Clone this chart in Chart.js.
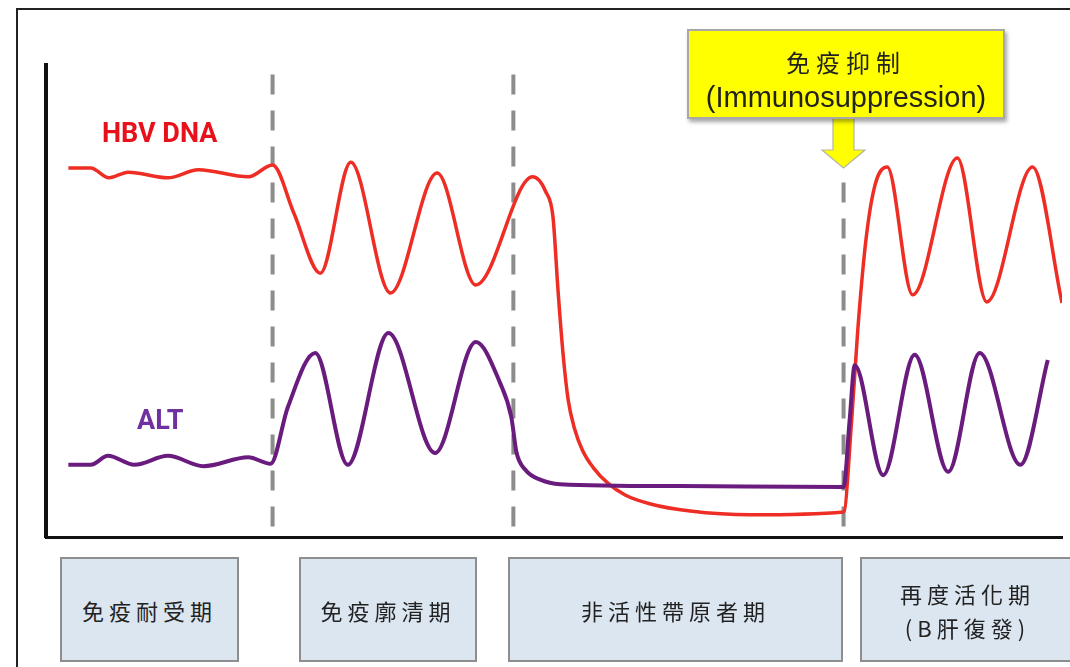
<!DOCTYPE html>
<html>
<head>
<meta charset="utf-8">
<script src="https://cdn.jsdelivr.net/npm/chart.js@4"></script>
<style>
  body { margin: 0; background: #fff; }
  #wrap { position: relative; width: 1070px; height: 667px; overflow: hidden; background: #fff; }
  #frame { position: absolute; left: 16px; top: 8px; width: 2000px; height: 2000px;
           border-left: 2px solid #222; border-top: 2px solid #222; }
  canvas { position: absolute; left: 0; top: 0; }
  .lbl { position: absolute; font-family: Roboto, "Liberation Sans", sans-serif; font-weight: 700; font-size: 27px; line-height: 1; }
  .phase { position: absolute; top: 557px; height: 105px; box-sizing: border-box;
           background: #dce6f1; border: 2px solid #8e8e8e;
           display: flex; align-items: center; justify-content: center; text-align: center;
           font-family: "Noto Sans CJK TC", sans-serif; font-size: 22px; letter-spacing: 5px;
           color: #222; line-height: 34px; white-space: pre; }
  #callout { position: absolute; left: 687px; top: 29px; width: 318px; height: 90px; box-sizing: border-box;
             background: #ffff00; border: 2px solid #a8a8a8; box-shadow: 2px 3px 4px rgba(0,0,0,0.35);
             text-align: center; color: #222; }
  #callout .zh { font-family: "Noto Sans CJK TC", sans-serif; font-size: 24px; letter-spacing: 6px; margin-top: 16px; line-height: 30px; }
  #callout .en { font-family: "Liberation Sans", Arial, sans-serif; font-size: 29px; line-height: 34px; margin-top: 3px; }
  #arrow { position: absolute; left: 0; top: 0; }
</style>
</head>
<body>
<div id="wrap">
  <div id="frame"></div>
  <canvas id="myChart" width="1070" height="667"></canvas>
  <div class="lbl" id="dnaLbl" style="left:102px; top:120px; color:#e8101a;">HBV DNA</div>
  <div class="lbl" id="altLbl" style="left:137px; top:407px; color:#7030a0;">ALT</div>
  <div id="phases"></div>
  <svg id="arrow" width="1070" height="200">
    <polygon points="833,118 854,118 854,150 865,150 843.5,168 822,150 833,150"
             fill="#ffff00" stroke="#b5b5a0" stroke-width="1.2"/>
  </svg>
  <div id="callout">
    <div class="zh">免疫抑制</div>
    <div class="en">(Immunosuppression)</div>
  </div>
</div>
<script>
'use strict'

// time runs 0..100 along the x axis, level 0..100 up the y axis
const dnaTime  = [2.2, 4.4, 6.2, 8.1, 12.0, 15.0, 19.9, 22.3, 24.4, 27.0, 30.0, 33.9, 38.5, 42.3, 47.9, 49.2, 49.9, 50.4, 50.9, 51.4, 52.0, 52.8, 53.9, 55.3, 57.0, 59.5, 63.4, 69.3, 78.5, 79.3, 79.9, 80.7, 81.6, 82.8, 85.3, 89.7, 92.6, 97.1, 100];
const dnaLevel = [78.2, 78.2, 76.1, 77.3, 76.1, 77.8, 76.3, 78.8, 68.6, 55.9, 79.4, 51.7, 77.1, 53.4, 76.3, 73.1, 67.8, 52.1, 38.6, 29.0, 23.1, 18.4, 14.6, 11.4, 8.9, 7.0, 5.5, 4.7, 5.3, 24.8, 43.9, 62.9, 74.6, 78.4, 51.3, 80.3, 49.8, 78.4, 49.6];

const altTime  = [2.2, 4.4, 6.1, 8.7, 12.0, 15.5, 19.9, 22.1, 23.8, 26.5, 29.7, 33.7, 38.3, 42.3, 44.7, 45.8, 46.3, 47.2, 48.7, 50.6, 62.4, 78.5, 79.1, 79.6, 82.4, 85.5, 88.8, 91.9, 95.9, 98.6];
const altLevel = [15.3, 15.3, 17.2, 15.3, 17.2, 15.0, 16.9, 15.5, 27.5, 39.0, 15.3, 43.2, 17.8, 41.3, 32.6, 25.4, 18.0, 14.2, 12.1, 11.2, 10.8, 10.6, 24.8, 36.4, 13.1, 38.6, 13.8, 39.0, 15.3, 37.5];

// phase boundaries (dashed lines) and phase names
const phaseBounds = [22.3, 46.0, 78.5];
const phaseNames = ['免疫耐受期', '免疫廓清期', '非活性帶原者期', '再度活化期\n(B肝復發)'];

const toPoints = (xs, ys) => xs.map((x, i) => ({x: x, y: ys[i]}));

const datasets = [
    {
        label: 'ALT',
        data: toPoints(altTime, altLevel),
        borderColor: '#6a1b7e',
        borderWidth: 4,
        pointRadius: 0,
        cubicInterpolationMode: 'monotone'
    },
    {
        label: 'HBV DNA',
        data: toPoints(dnaTime, dnaLevel),
        borderColor: '#ee2d24',
        borderWidth: 3.5,
        pointRadius: 0,
        cubicInterpolationMode: 'monotone'
    }
];

phaseBounds.forEach(b => {
    datasets.push({
        label: 'bound',
        data: [{x: b, y: 98}, {x: b, y: 0}],
        borderColor: '#8c8c8c',
        borderWidth: 4,
        borderDash: [20, 16],
        pointRadius: 0,
        tension: 0
    });
});

const ctx = document.getElementById('myChart');
new Chart(ctx, {
    type: 'line',
    data: { datasets: datasets },
    options: {
        responsive: false,
        animation: false,
        layout: { padding: { left: 46, top: 65, right: 8, bottom: 130 } },
        plugins: { legend: { display: false }, tooltip: { enabled: false } },
        scales: {
            x: {
                type: 'linear', min: 0, max: 100,
                ticks: { display: false },
                grid: { display: false, drawTicks: false },
                border: { display: true, color: '#111', width: 3 }
            },
            y: {
                min: 0, max: 100,
                ticks: { display: false },
                grid: { display: false, drawTicks: false },
                border: { display: true, color: '#111', width: 4 }
            }
        }
    }
});

// phase boxes under the axis
const boxSpots = [[60, 179], [299, 178], [508, 335], [860, 215]];
const phaseWrap = document.getElementById('phases');
phaseNames.forEach((name, i) => {
    const d = document.createElement('div');
    d.className = 'phase';
    d.style.left = boxSpots[i][0] + 'px';
    d.style.width = boxSpots[i][1] + 'px';
    d.textContent = name;
    phaseWrap.appendChild(d);
});
</script>
</body>
</html>
